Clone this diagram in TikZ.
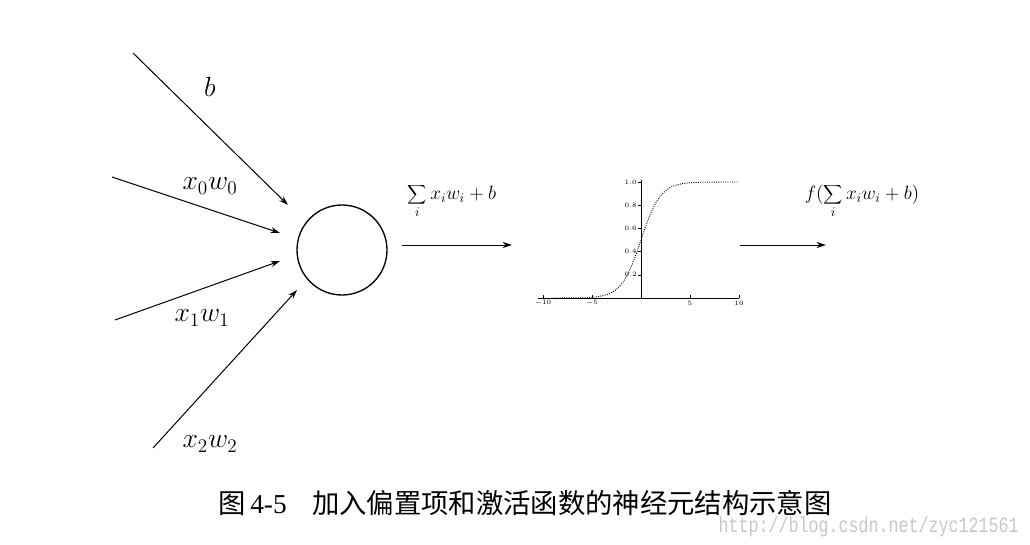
\documentclass[tikz,border=0pt]{standalone}
\usepackage[no-math]{fontspec}
\newfontfamily\cjk{Noto Sans CJK SC}
\newfontfamily\libserif{Liberation Serif}
\newfontfamily\libmono{Liberation Mono}
\usetikzlibrary{arrows.meta}
\begin{document}
\begin{tikzpicture}[x=0.75pt,y=-0.75pt,
  inarrow/.style={line width=0.75pt,-{Stealth[length=7pt,width=4.5pt]}},
  mathlbl/.style={font=\fontsize{20.5}{24}\selectfont, inner sep=0pt},
  sumlbl/.style={font=\fontsize{14}{16}\selectfont, inner sep=0pt},
  ticklbl/.style={font=\fontsize{4.5}{5}\selectfont, inner sep=0pt},
  axisline/.style={line width=0.6pt}]
\useasboundingbox (0,0) rectangle (1030,545);
% neuron
\node[draw, circle, line width=1pt, minimum size=67.5pt, inner sep=0pt] (neuron) at (342,250) {};
% input arrows
\coordinate (bS) at (133,53);  \coordinate (bE) at (288,205);
\coordinate (x0S) at (112,177); \coordinate (x0E) at (280,233);
\coordinate (x1S) at (115,320); \coordinate (x1E) at (280,261);
\coordinate (x2S) at (153,448); \coordinate (x2E) at (297,290);
\draw[inarrow] (bS) -- (bE);
\draw[inarrow] (x0S) -- (x0E);
\draw[inarrow] (x1S) -- (x1E);
\draw[inarrow] (x2S) -- (x2E);
\node[mathlbl] (lb) at (210,87) {$b$};
\node[mathlbl] (lx0) at (210,186) {$x_0w_0$};
\node[mathlbl] (lx1) at (202,318) {$x_1w_1$};
\node[mathlbl] (lx2) at (210,444) {$x_2w_2$};
% output of neuron
\coordinate (sumS) at (402,245); \coordinate (sumE) at (512,245);
\draw[inarrow] (sumS) -- (sumE);
\node[sumlbl] (lsum) at (452,201) {$\displaystyle\sum_i x_iw_i+b$};
% sigmoid plot
\coordinate (o) at (641,298);
\draw[axisline] (538,298) -- (739,298);
\draw[axisline] (641,298) -- (641,180);
\foreach \t/\l in {-10/-10,-5/-5,5/5,10/10}{
  \draw[line width=0.4pt] ({641+9.8*\t},298) -- ({641+9.8*\t},295);
  \node[ticklbl] at ({641+9.8*\t},303) {$\l$};
}
\foreach \v/\l in {0.2/0.2,0.4/0.4,0.6/0.6,0.8/0.8,1.0/1.0}{
  \draw[line width=0.4pt] (641,{298-116*\v}) -- (638,{298-116*\v});
  \node[ticklbl, anchor=east] at (637,{298-116*\v}) {$\l$};
}
\draw[line width=0.7pt, densely dotted, domain=-9:10, samples=120, smooth]
  plot ({641+9.8*\x},{298-116/(1+exp(-\x))});
% output arrow
\coordinate (fS) at (740,245); \coordinate (fE) at (826,245);
\draw[inarrow] (fS) -- (fE);
\node[sumlbl] (lf) at (862,201) {$\displaystyle f(\sum_i x_iw_i+b)$};
% caption
\node[anchor=west, inner sep=0pt] (cap) at (218,503)
  {\fontsize{20.5}{24}\selectfont\cjk 图\hspace{3.5pt}{\libserif 4-5}\hspace{19pt}加入偏置项和激活函数的神经元结构示意图};
\node[anchor=east, inner sep=0pt, text=black!22] (wm) at (1019,527)
  {\scalebox{1}[1.3]{\fontsize{12.5}{14}\selectfont\libmono http://blog.csdn.net/zyc121561}};
\end{tikzpicture}
\end{document}
